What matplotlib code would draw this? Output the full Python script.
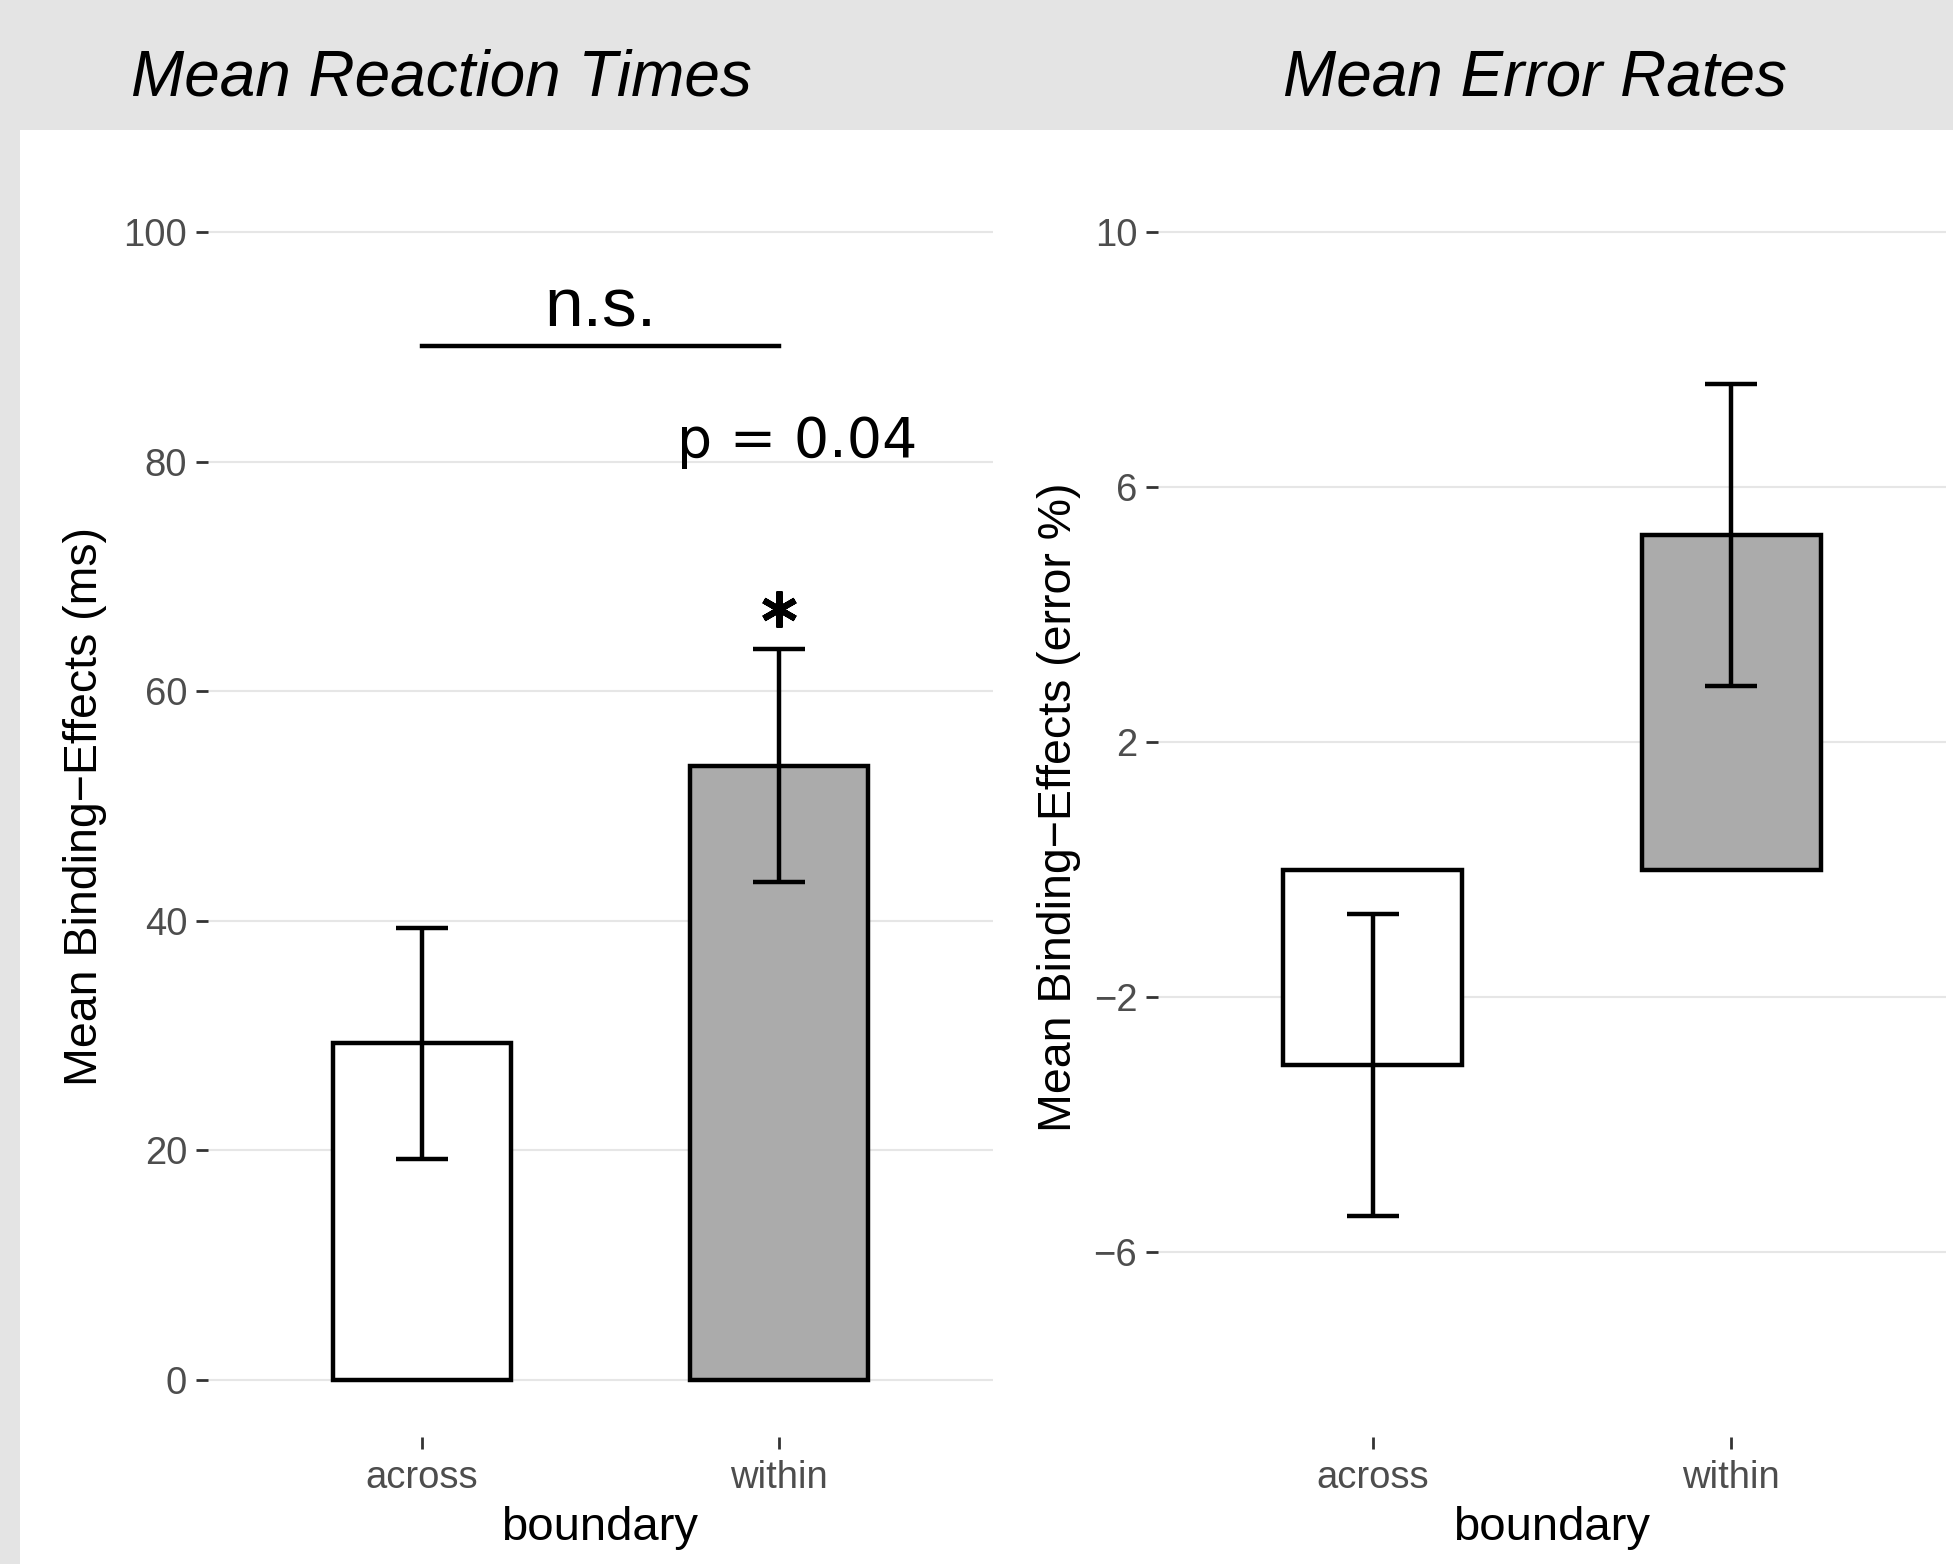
import matplotlib.pyplot as plt
from matplotlib.patches import Rectangle
import numpy as np

plt.rcParams['font.family'] = ['Liberation Sans', 'DejaVu Sans']

categories = ["across", "within"]
rt_means = [29.3, 53.5]
rt_se = [10.1, 10.15]
err_means = [-3.07, 5.25]
err_se = [2.37, 2.37]
rt_ticks = [0, 20, 40, 60, 80, 100]
err_ticks = [-6, -2, 2, 6, 10]
bar_colors = ["white", "#ABABAB"]

# annotation values (left panel)
ns_y = 90.1
p_text = "p = 0.04"
p_y = 80.4
star_y = 67.2

fig = plt.figure(figsize=(19.53, 15.64), dpi=100)
fig.patch.set_facecolor("#E4E4E4")
fig.add_artist(Rectangle((20 / 1953, 0), 1933 / 1953, 1 - 130 / 1564,
                         transform=fig.transFigure, facecolor="white",
                         edgecolor="none", zorder=0))

ax1 = fig.add_axes([208 / 1953, 0.0812, 785 / 1953, 0.8069])
ax2 = fig.add_axes([1158 / 1953, 0.0812, 788 / 1953, 0.8069])

x = np.arange(1, len(categories) + 1)


def style(ax, ticks, ylim):
    ax.set_facecolor("none")
    for s in ax.spines.values():
        s.set_visible(False)
    ax.set_xlim(0.4, 2.6)
    ax.set_ylim(*ylim)
    ax.set_yticks(ticks)
    ax.set_yticklabels([str(t).replace("-", "\u2212") for t in ticks])
    ax.set_xticks(x)
    ax.set_xticklabels(categories)
    for t in ticks:
        ax.axhline(t, color="#E6E6E6", lw=1.5, zorder=0)
    ax.tick_params(axis="both", length=8.5, width=2.0, color="#333333",
                   labelcolor="#4D4D4D", labelsize=27.5, pad=6.5)
    ax.tick_params(axis="x", pad=8)


def bars(ax, means, se):
    ax.bar(x, means, width=0.5, color=bar_colors, edgecolor="black",
           linewidth=3.2, zorder=2)
    ax.errorbar(x, means, yerr=se, fmt="none", ecolor="black",
                elinewidth=3.2, capsize=19, capthick=3.2, zorder=3)


style(ax1, rt_ticks, (-5, 105))
style(ax2, err_ticks, (-8.9, 10.9))
bars(ax1, rt_means, rt_se)
bars(ax2, err_means, err_se)

# significance annotations
ax1.plot([1, 2], [ns_y, ns_y], color="black", lw=3.2, zorder=3)
ax1.text(1.5, ns_y + 1.7, "n.s.", ha="center", va="baseline", fontsize=50)
ax1.text(2.05, p_y, p_text, ha="center", va="baseline", fontsize=40,
         family=["DejaVu Sans"])
ax1.plot([2], [star_y], marker=(6, 2, 0), markersize=26, mew=4.5,
         color="black", zorder=3)

# titles and axis labels
fig.text(131 / 1953, 1 - 96 / 1564, "Mean Reaction Times", fontsize=46,
         style="italic", ha="left", va="baseline")
fig.text(1283 / 1953, 1 - 96 / 1564, "Mean Error Rates", fontsize=46,
         style="italic", ha="left", va="baseline")
fig.text(85 / 1953, 1 - 807 / 1564, "Mean Binding\u2212Effects (ms)",
         rotation=90, ha="center", va="center", fontsize=33.5)
fig.text(1059 / 1953, 1 - 807 / 1564, "Mean Binding\u2212Effects (error %)",
         rotation=90, ha="center", va="center", fontsize=33.5)
fig.text(600 / 1953, 1 - 1528 / 1564, "boundary", ha="center", va="center",
         fontsize=34)
fig.text(1552 / 1953, 1 - 1528 / 1564, "boundary", ha="center", va="center",
         fontsize=34)

fig.savefig("out.png", dpi=100, facecolor=fig.get_facecolor())
